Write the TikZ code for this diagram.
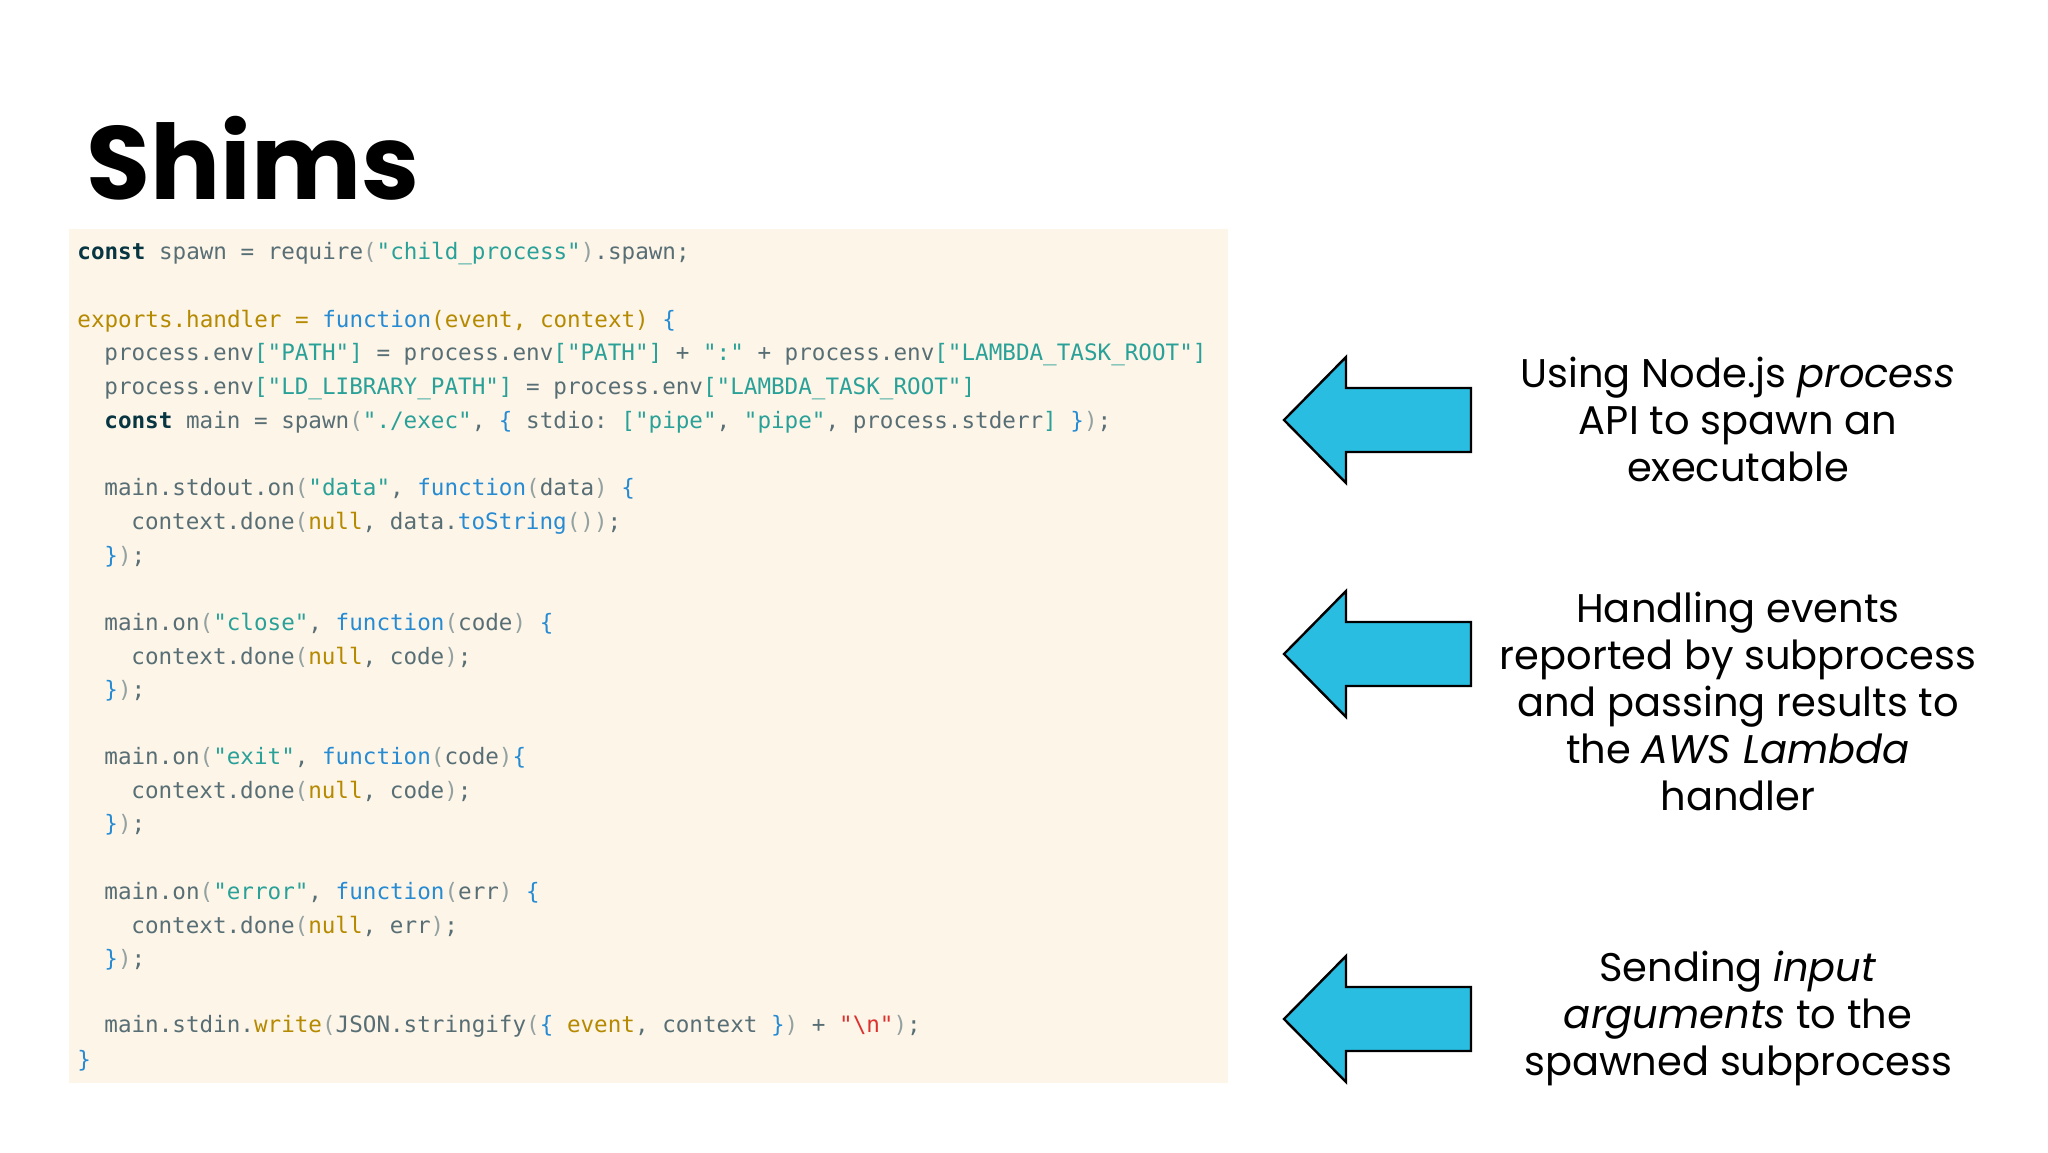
\documentclass[tikz,border=0pt]{standalone}
\usepackage{fontspec}
\setmainfont{Poppins}
\setmonofont{DejaVu Sans Mono}
\definecolor{codebg}{HTML}{FDF5E8}
\definecolor{kw}{HTML}{073642}
\definecolor{base}{HTML}{586E75}
\definecolor{str}{HTML}{2AA198}
\definecolor{fn}{HTML}{268BD2}
\definecolor{ol}{HTML}{B58900}
\definecolor{pu}{HTML}{93A1A1}
\definecolor{rd}{HTML}{DC322F}
\definecolor{arrowblue}{HTML}{29BDE2}
\newcommand\cK[1]{\textcolor{kw}{\bfseries #1}}
\newcommand\cS[1]{\textcolor{str}{#1}}
\newcommand\cF[1]{\textcolor{fn}{#1}}
\newcommand\cO[1]{\textcolor{ol}{#1}}
\newcommand\cP[1]{\textcolor{pu}{#1}}
\newcommand\cR[1]{\textcolor{rd}{#1}}
\tikzset{
  code/.style={anchor=west,inner sep=0pt,font=\ttfamily\fontsize{11.3pt}{13pt}\selectfont,text=base},
  note/.style={align=center,inner sep=0pt,font=\fontsize{20pt}{23.5pt}\selectfont,text=black},
  bigarrow/.style={fill=arrowblue,draw=black,line width=1.2pt,line join=miter}
}
\begin{document}
\begin{tikzpicture}[x=0.5pt,y=-0.5pt]
\useasboundingbox (0,0) rectangle (2048,1152);
\fill[white] (0,0) rectangle (2048,1152);
\node[anchor=base west,inner sep=0pt,font=\bfseries\fontsize{52pt}{60pt}\selectfont] (title) at (86,199) {Shims};
\fill[codebg] (69,229) rectangle (1228,1083);
\def\lx{77}
\def\ly#1{254+#1*33.6}
\node[code] (l0) at (\lx,{\ly{0}}) {\cK{const} spawn = require\cP{(}\cS{"child\_process"}\cP{)}.spawn;};
\node[code] (l2) at (\lx,{\ly{2}}) {\cO{exports.handler =} \cF{function}\cO{(event, context)} \cF{\{}};
\node[code] (l3) at (\lx+27,{\ly{3}}) {process.env\cS{["PATH"]} = process.env\cS{["PATH"]} + \cS{":"} + process.env\cS{["LAMBDA\_TASK\_ROOT"]}};
\node[code] (l4) at (\lx+27,{\ly{4}}) {process.env\cS{["LD\_LIBRARY\_PATH"]} = process.env\cS{["LAMBDA\_TASK\_ROOT"]}};
\node[code] (l5) at (\lx+27,{\ly{5}}) {\cK{const} main = spawn\cP{(}\cS{"./exec"}, \cF{\{} stdio: \cS{["pipe"}, \cS{"pipe"}, process.stderr\cS{]} \cF{\}}\cP{)};};
\node[code] (l7) at (\lx+27,{\ly{7}}) {main.stdout.on\cP{(}\cS{"data"}, \cF{function}\cP{(}data\cP{)} \cF{\{}};
\node[code] (l8) at (\lx+54,{\ly{8}}) {context.done\cP{(}\cO{null}, data.\cF{toString}\cP{())};};
\node[code] (l9) at (\lx+27,{\ly{9}}) {\cF{\}}\cP{)};};
\node[code] (l11) at (\lx+27,{\ly{11}}) {main.on\cP{(}\cS{"close"}, \cF{function}\cP{(}code\cP{)} \cF{\{}};
\node[code] (l12) at (\lx+54,{\ly{12}}) {context.done\cP{(}\cO{null}, code\cP{)};};
\node[code] (l13) at (\lx+27,{\ly{13}}) {\cF{\}}\cP{)};};
\node[code] (l15) at (\lx+27,{\ly{15}}) {main.on\cP{(}\cS{"exit"}, \cF{function}\cP{(}code\cP{)}\cF{\{}};
\node[code] (l16) at (\lx+54,{\ly{16}}) {context.done\cP{(}\cO{null}, code\cP{)};};
\node[code] (l17) at (\lx+27,{\ly{17}}) {\cF{\}}\cP{)};};
\node[code] (l19) at (\lx+27,{\ly{19}}) {main.on\cP{(}\cS{"error"}, \cF{function}\cP{(}err\cP{)} \cF{\{}};
\node[code] (l20) at (\lx+54,{\ly{20}}) {context.done\cP{(}\cO{null}, err\cP{)};};
\node[code] (l21) at (\lx+27,{\ly{21}}) {\cF{\}}\cP{)};};
\node[code] (l23) at (\lx+27,{\ly{23}}) {main.stdin.\cO{write}\cP{(}JSON.stringify\cP{(}\cF{\{} \cO{event}, context \cF{\}}\cP{)} + \cR{"\textbackslash n"}\cP{)};};
\node[code] (l24) at (\lx,{\ly{24}}) {\cF{\}}};
\foreach \cy/\nm in {420/a1,654/a2,1019/a3}{
  \draw[bigarrow] (1284,\cy) -- (1346,\cy-63) -- (1346,\cy-32) -- (1471,\cy-32) -- (1471,\cy+32) -- (1346,\cy+32) -- (1346,\cy+63) -- cycle;
}
\node[note] (t1) at (1738,419) {Using Node.js \textit{process}\\API to spawn an\\executable};
\node[note] (t2) at (1738,701) {Handling events\\reported by subprocess\\and passing results to\\the \textit{AWS Lambda}\\handler};
\node[note] (t3) at (1738,1018) {Sending \textit{input}\\\textit{arguments} to the\\spawned subprocess};
\end{tikzpicture}
\end{document}
